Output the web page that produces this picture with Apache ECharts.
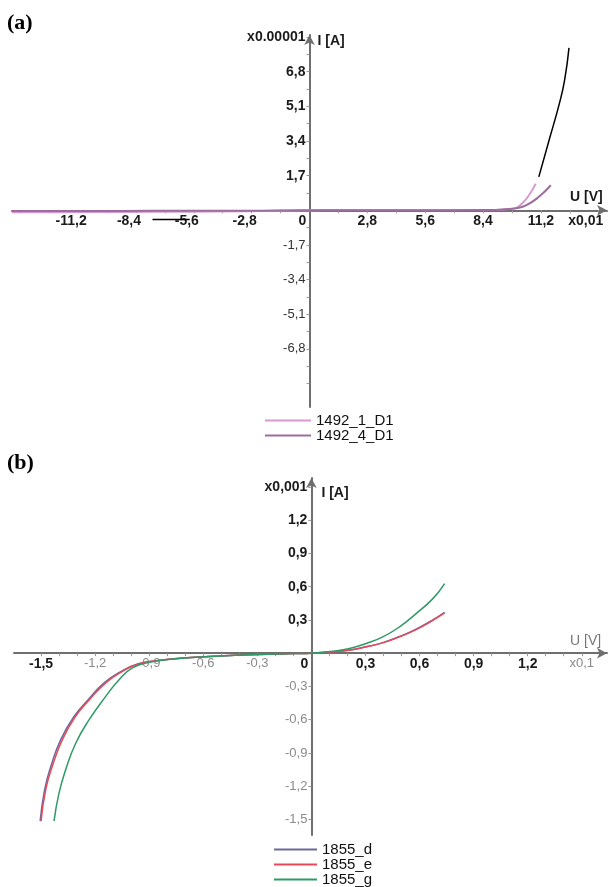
<!DOCTYPE html>
<html>
<head>
<meta charset="utf-8">
<script src="https://cdn.jsdelivr.net/npm/echarts@6/dist/echarts.min.js"></script>
<style>
html,body{margin:0;padding:0;background:#fff;}
#c{width:609px;height:887px;}
</style>
</head>
<body>
<div id="c"></div>
<script>
// ---------- Panel (a) data ----------
var a1492_1_x = [-14.4, -12, -9, -6, -3, 0, 3, 6, 8, 9.0, 9.5, 10.0, 10.3, 10.6, 10.95];
var a1492_1_y = [-0.09, -0.09, -0.08, -0.07, -0.05, 0, 0.01, 0.01, 0.01, 0.02, 0.05, 0.12, 0.35, 0.7, 1.31];
var a1492_4_x = [-14.4, -12, -9, -6, -3, 0, 3, 6, 8, 9.0, 9.5, 10.0, 10.5, 11.1, 11.68];
var a1492_4_y = [-0.03, -0.03, -0.03, -0.02, -0.02, 0, 0, 0, 0.01, 0.02, 0.05, 0.1, 0.25, 0.66, 1.23];
var aBlack_x = [11.1, 11.6, 12.1, 12.35, 12.56];
var aBlack_y = [1.64, 3.45, 5.26, 6.4, 7.97];
var aArrow_x = [-7.6, -5.8];
var aArrow_y = [-0.45, -0.45];

var aTickX = [-14, -12.6, -11.2, -9.8, -8.4, -7, -5.6, -4.2, -2.8, -1.4, 1.4, 2.8, 4.2, 5.6, 7, 8.4, 9.8, 11.2, 12.6, 14];
var aLabelX = [-11.2, -8.4, -5.6, -2.8, 0, 2.8, 5.6, 8.4, 11.2, 14];
var aTickY = [-8.5, -7.65, -6.8, -5.95, -5.1, -4.25, -3.4, -2.55, -1.7, -0.85, 0.85, 1.7, 2.55, 3.4, 4.25, 5.1, 5.95, 6.8, 7.65, 8.5];
var aLabelY = [-6.8, -5.1, -3.4, -1.7, 1.7, 3.4, 5.1, 6.8, 8.5];

// ---------- Panel (b) data ----------
var b1855_d_x = [-1.505, -1.48, -1.445, -1.39, -1.315, -1.24, -1.15, -1.055, -0.96, -0.85, -0.72, -0.5, -0.3, -0.1, 0, 0.118, 0.211, 0.304, 0.396, 0.489, 0.581, 0.674, 0.739];
var b1855_d_y = [-1.515, -1.23, -1.018, -0.777, -0.567, -0.422, -0.268, -0.164, -0.095, -0.065, -0.044, -0.025, -0.012, -0.004, 0, 0.012, 0.028, 0.058, 0.095, 0.15, 0.217, 0.3, 0.368];
var b1855_e_x = [-1.50, -1.474, -1.437, -1.381, -1.307, -1.233, -1.141, -1.048, -0.956, -0.844, -0.717, -0.5, -0.3, -0.1, 0, 0.118, 0.211, 0.304, 0.396, 0.489, 0.581, 0.674, 0.739];
var b1855_e_y = [-1.515, -1.23, -1.018, -0.777, -0.567, -0.422, -0.268, -0.164, -0.095, -0.065, -0.044, -0.025, -0.012, -0.004, 0, 0.012, 0.027, 0.057, 0.093, 0.147, 0.213, 0.297, 0.363];
var b1855_g_x = [-1.428, -1.4, -1.363, -1.307, -1.233, -1.141, -1.067, -0.993, -0.9, -0.75, -0.5, -0.3, -0.1, 0, 0.118, 0.211, 0.304, 0.396, 0.489, 0.581, 0.674, 0.739];
var b1855_g_y = [-1.515, -1.26, -1.05, -0.81, -0.6, -0.39, -0.239, -0.133, -0.083, -0.05, -0.025, -0.012, -0.004, 0, 0.018, 0.042, 0.087, 0.147, 0.237, 0.357, 0.492, 0.628];

var bTickX = [-1.5, -1.4, -1.3, -1.2, -1.1, -1.0, -0.9, -0.8, -0.7, -0.6, -0.5, -0.4, -0.3, -0.2, -0.1, 0.1, 0.2, 0.3, 0.4, 0.5, 0.6, 0.7, 0.8, 0.9, 1.0, 1.1, 1.2, 1.3, 1.4, 1.5];
var bLabelX = [-1.5, -1.2, -0.9, -0.6, -0.3, 0, 0.3, 0.6, 0.9, 1.2, 1.5];
var bTickY = [-1.5, -1.2, -0.9, -0.6, -0.3, 0.3, 0.6, 0.9, 1.2, 1.5];
var bLabelY = [-1.5, -1.2, -0.9, -0.6, -0.3, 0.3, 0.6, 0.9, 1.2, 1.5];

function zip(xs, ys) { return xs.map(function (x, i) { return [x, ys[i]]; }); }
function fmtNum(v) { return String(v).replace('.', ','); }

var AXC = '#6f6f6f';
var FONT = 'Liberation Sans';
var rich = {
  b: { fontFamily: FONT, fontSize: 14, fontWeight: 'bold', color: '#1a1a1a' },
  n: { fontFamily: FONT, fontSize: 13, fontWeight: 'normal', color: '#333' },
  g: { fontFamily: FONT, fontSize: 13, fontWeight: 'normal', color: '#8a8a8a' },
  z: { fontFamily: FONT, fontSize: 14, fontWeight: 'bold', color: '#1a1a1a', padding: [0, 14, 0, 0] },
  e: { fontFamily: FONT, fontSize: 14, fontWeight: 'bold', color: '#1a1a1a', padding: [0, 26, 0, 0] },
  l: { fontFamily: FONT, fontSize: 14, fontWeight: 'bold', color: '#1a1a1a', padding: [0, 14, 0, 0] }
};

// grid geometry
var gA = { left: 12, width: 595, top: 35, height: 372 };
var gB = { left: 14, width: 593, top: 478, height: 357 };
var aXR = [-14.4, 14.4], aYR = [-9.65, 8.6];
var bXR = [-1.65, 1.64], bYR = [-1.64, 1.58];
// offsets that put the axes through the origin
function xOff(g, yr) { return -g.height * (0 - yr[0]) / (yr[1] - yr[0]); }
function yOff(g, xr) { return -g.width * (0 - xr[0]) / (xr[1] - xr[0]); }

function axisLineCfg() {
  return { onZero: false, symbol: ['none', 'arrow'], symbolSize: [8, 10], lineStyle: { color: AXC, width: 2 } };
}

var option = {
  backgroundColor: '#fff',
  animation: false,
  graphic: [
    { type: 'text', left: 7, top: 12, style: { text: '(a)', font: 'bold 22px "Liberation Serif"', fill: '#000' } },
    { type: 'text', left: 7, top: 452, style: { text: '(b)', font: 'bold 22px "Liberation Serif"', fill: '#000' } }
  ],
  grid: [
    { left: gA.left, width: gA.width, top: gA.top, height: gA.height, containLabel: false, outerBoundsMode: 'none' },
    { left: gB.left, width: gB.width, top: gB.top, height: gB.height, containLabel: false, outerBoundsMode: 'none' }
  ],
  legend: [
    {
      data: ['1492_1_D1', '1492_4_D1'], orient: 'vertical', left: 265, top: 413,
      icon: 'rect', itemWidth: 46, itemHeight: 2, itemGap: 0, padding: 0,
      textStyle: { fontFamily: FONT, fontSize: 15, color: '#111', lineHeight: 14 }
    },
    {
      data: ['1855_d', '1855_e', '1855_g'], orient: 'vertical', left: 274, top: 842,
      icon: 'rect', itemWidth: 43, itemHeight: 2, itemGap: 0, padding: 0,
      textStyle: { fontFamily: FONT, fontSize: 15, color: '#111', lineHeight: 14 }
    }
  ],
  xAxis: [
    {
      type: 'value', gridIndex: 0, min: aXR[0], max: aXR[1], position: 'bottom', offset: xOff(gA, aYR),
      axisLine: axisLineCfg(),
      axisTick: { customValues: aTickX, length: 3, lineStyle: { color: '#999' } },
      axisLabel: {
        customValues: aLabelX, margin: 4, rich: rich,
        formatter: function (v) {
          if (v === 0) return '{z|0}';
          if (v === 14) return '{e|x0,01}';
          if (v < 0) return '{l|' + fmtNum(v) + '}';
          return '{b|' + fmtNum(v) + '}';
        }
      },
      splitLine: { show: false },
      name: 'U [V]', nameLocation: 'end', nameGap: -37,
      nameTextStyle: { fontFamily: FONT, fontSize: 14, fontWeight: 'bold', color: '#1a1a1a', align: 'left', verticalAlign: 'bottom', padding: [0, 0, 6, 0] }
    },
    {
      type: 'value', gridIndex: 1, min: bXR[0], max: bXR[1], position: 'bottom', offset: xOff(gB, bYR),
      axisLine: axisLineCfg(),
      axisTick: { customValues: bTickX, length: 3, lineStyle: { color: '#999' } },
      axisLabel: {
        customValues: bLabelX, margin: 4, rich: rich,
        formatter: function (v) {
          if (v === 0) return '{z|0}';
          if (v === 1.5) return '{g|x0,1}';
          if (v < 0 && v > -1.3) return '{g|' + fmtNum(v) + '}';
          return '{b|' + fmtNum(v) + '}';
        }
      },
      splitLine: { show: false },
      name: 'U [V]', nameLocation: 'end', nameGap: -37,
      nameTextStyle: { fontFamily: FONT, fontSize: 14, fontWeight: 'normal', color: '#777', align: 'left', verticalAlign: 'bottom', padding: [0, 0, 5, 0] }
    }
  ],
  yAxis: [
    {
      type: 'value', gridIndex: 0, min: aYR[0], max: aYR[1], position: 'left', offset: yOff(gA, aXR),
      axisLine: axisLineCfg(),
      axisTick: { customValues: aTickY, length: 3, lineStyle: { color: '#999' } },
      axisLabel: {
        customValues: aLabelY, margin: 4, rich: rich,
        formatter: function (v) {
          if (v === 8.5) return '{b|x0.00001}';
          if (v < 0) return '{n|' + fmtNum(v) + '}';
          return '{b|' + fmtNum(v) + '}';
        }
      },
      splitLine: { show: false },
      name: 'I [A]', nameLocation: 'end', nameGap: -6,
      nameTextStyle: { fontFamily: FONT, fontSize: 14, fontWeight: 'bold', color: '#1a1a1a', align: 'left', verticalAlign: 'middle', padding: [0, 0, 0, 8] }
    },
    {
      type: 'value', gridIndex: 1, min: bYR[0], max: bYR[1], position: 'left', offset: yOff(gB, bXR),
      axisLine: axisLineCfg(),
      axisTick: { customValues: bTickY, length: 3, lineStyle: { color: '#999' } },
      axisLabel: {
        customValues: bLabelY, margin: 4, rich: rich,
        formatter: function (v) {
          if (v === 1.5) return '{b|x0,001}';
          if (v < 0) return '{g|' + fmtNum(v) + '}';
          return '{b|' + fmtNum(v) + '}';
        }
      },
      splitLine: { show: false },
      name: 'I [A]', nameLocation: 'end', nameGap: -15,
      nameTextStyle: { fontFamily: FONT, fontSize: 14, fontWeight: 'bold', color: '#1a1a1a', align: 'left', verticalAlign: 'middle', padding: [0, 0, 0, 10] }
    }
  ],
  series: [
    { name: '1492_1_D1', type: 'line', xAxisIndex: 0, yAxisIndex: 0, data: zip(a1492_1_x, a1492_1_y), smooth: true, symbol: 'none', lineStyle: { color: '#d69ad0', width: 2 }, itemStyle: { color: '#d69ad0' } },
    { name: '1492_4_D1', type: 'line', xAxisIndex: 0, yAxisIndex: 0, data: zip(a1492_4_x, a1492_4_y), smooth: true, symbol: 'none', lineStyle: { color: '#9c6e9e', width: 2 }, itemStyle: { color: '#9c6e9e' } },
    { name: 'black', type: 'line', xAxisIndex: 0, yAxisIndex: 0, data: zip(aBlack_x, aBlack_y), smooth: true, symbol: 'none', lineStyle: { color: '#000', width: 1.5 } },
    { name: 'arrow', type: 'line', xAxisIndex: 0, yAxisIndex: 0, data: zip(aArrow_x, aArrow_y), symbol: 'none', lineStyle: { color: '#000', width: 1.5 } },
    { name: '1855_d', type: 'line', xAxisIndex: 1, yAxisIndex: 1, data: zip(b1855_d_x, b1855_d_y), smooth: true, symbol: 'none', lineStyle: { color: '#6a6a9c', width: 1.5 }, itemStyle: { color: '#6a6a9c' } },
    { name: '1855_e', type: 'line', xAxisIndex: 1, yAxisIndex: 1, data: zip(b1855_e_x, b1855_e_y), smooth: true, symbol: 'none', lineStyle: { color: '#e8485a', width: 1.5 }, itemStyle: { color: '#e8485a' } },
    { name: '1855_g', type: 'line', xAxisIndex: 1, yAxisIndex: 1, data: zip(b1855_g_x, b1855_g_y), smooth: true, symbol: 'none', lineStyle: { color: '#2e9a66', width: 1.5 }, itemStyle: { color: '#2e9a66' } }
  ]
};

var chart = echarts.init(document.getElementById('c'), null, { renderer: 'canvas' });
chart.setOption(option);
</script>
</body>
</html>
